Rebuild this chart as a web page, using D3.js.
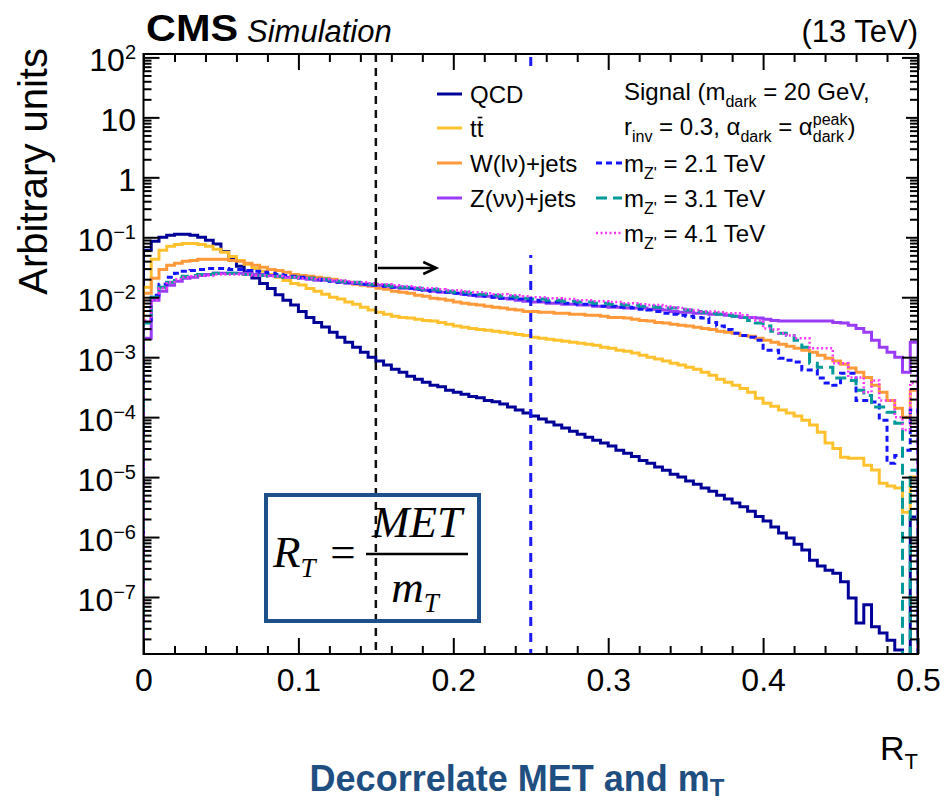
<!DOCTYPE html>
<html><head><meta charset="utf-8">
<script src="https://cdn.jsdelivr.net/npm/d3@7"></script>
<style>body{margin:0;background:#fff} text{white-space:pre}</style>
</head><body>
<svg id="c" width="946" height="802"></svg>
<script>
// ---------------- data (100 bins, R_T from 0 to 0.5) ----------------
const binWidth = 0.005;
const qcd = [6.1e-2,8.6e-2,1.0e-1,1.08e-1,1.12e-1,1.12e-1,1.08e-1,1.0e-1,8.9e-2,7.7e-2,
5.8e-2,4.3e-2,3.3e-2,2.6e-2,2.1e-2,1.7e-2,1.4e-2,1.1e-2,8.9e-3,7.4e-3,
5.8e-3,4.6e-3,3.8e-3,3.2e-3,2.6e-3,2.15e-3,1.78e-3,1.47e-3,1.21e-3,1.0e-3,
8.6e-4,7.4e-4,6.3e-4,5.6e-4,4.8e-4,4.3e-4,3.8e-4,3.4e-4,3.2e-4,2.8e-4,
2.6e-4,2.4e-4,2.2e-4,2.1e-4,1.9e-4,1.8e-4,1.65e-4,1.47e-4,1.31e-4,1.17e-4,
1.04e-4,9.3e-5,8.3e-5,7.4e-5,6.6e-5,5.8e-5,5.2e-5,4.6e-5,4.1e-5,3.7e-5,
3.3e-5,2.8e-5,2.5e-5,2.2e-5,1.9e-5,1.7e-5,1.47e-5,1.3e-5,1.12e-5,1.0e-5,
8.6e-6,7.6e-6,6.6e-6,5.8e-6,5.0e-6,4.3e-6,3.7e-6,3.2e-6,2.7e-6,2.2e-6,
1.85e-6,1.47e-6,1.17e-6,9.6e-7,7.6e-7,6.1e-7,4.1e-7,3.3e-7,2.8e-7,2.5e-7,
1.8e-7,9.6e-8,3.7e-8,7.4e-8,3.2e-8,2.5e-8,1.9e-8,1.3e-8,0,2.15e-6];
const ttbar = [1.47e-2,4.3e-2,6.1e-2,7.1e-2,7.6e-2,7.9e-2,7.9e-2,7.6e-2,7.1e-2,6.3e-2,
5.6e-2,4.8e-2,4.1e-2,3.55e-2,3.0e-2,2.7e-2,2.4e-2,2.15e-2,1.9e-2,1.7e-2,
1.6e-2,1.4e-2,1.26e-2,1.12e-2,1.0e-2,9.3e-3,8.3e-3,7.6e-3,6.8e-3,6.1e-3,
5.6e-3,5.2e-3,4.8e-3,4.6e-3,4.5e-3,4.3e-3,4.1e-3,4.0e-3,3.8e-3,3.55e-3,
3.3e-3,3.16e-3,3.0e-3,2.9e-3,2.8e-3,2.7e-3,2.6e-3,2.5e-3,2.4e-3,2.3e-3,
2.15e-3,2.07e-3,2.0e-3,1.92e-3,1.85e-3,1.78e-3,1.71e-3,1.65e-3,1.58e-3,1.47e-3,
1.41e-3,1.31e-3,1.26e-3,1.17e-3,1.08e-3,1.0e-3,9.3e-4,8.6e-4,7.9e-4,7.4e-4,
6.8e-4,6.3e-4,5.6e-4,5.0e-4,4.3e-4,3.8e-4,3.4e-4,3.0e-4,2.6e-4,2.07e-4,
1.71e-4,1.52e-4,1.31e-4,1.17e-4,1.04e-4,8.9e-5,7.4e-5,5.6e-5,3.7e-5,3.0e-5,
2.15e-5,2.07e-5,2.07e-5,1.58e-5,1.31e-5,7.9e-6,7.1e-6,6.6e-6,2.6e-6,1.0e-5];
const wjets = [1.17e-2,2.07e-2,2.9e-2,3.4e-2,3.7e-2,4.0e-2,4.1e-2,4.3e-2,4.3e-2,4.3e-2,
4.3e-2,4.1e-2,4.0e-2,3.7e-2,3.4e-2,3.16e-2,2.9e-2,2.8e-2,2.6e-2,2.4e-2,
2.3e-2,2.24e-2,2.15e-2,2.07e-2,2.0e-2,1.85e-2,1.78e-2,1.65e-2,1.58e-2,1.52e-2,
1.41e-2,1.36e-2,1.26e-2,1.21e-2,1.17e-2,1.08e-2,1.04e-2,9.6e-3,9.3e-3,8.9e-3,
8.3e-3,7.9e-3,7.6e-3,7.4e-3,7.1e-3,6.8e-3,6.6e-3,6.3e-3,6.1e-3,5.8e-3,
5.8e-3,5.6e-3,5.6e-3,5.4e-3,5.4e-3,5.2e-3,5.2e-3,5.0e-3,5.0e-3,4.8e-3,
4.6e-3,4.6e-3,4.5e-3,4.3e-3,4.1e-3,4.0e-3,3.8e-3,3.7e-3,3.55e-3,3.4e-3,
3.3e-3,3.16e-3,3.0e-3,2.9e-3,2.7e-3,2.6e-3,2.5e-3,2.3e-3,2.24e-3,2.07e-3,
1.92e-3,1.78e-3,1.65e-3,1.52e-3,1.41e-3,1.31e-3,1.21e-3,1.08e-3,9.6e-4,8.6e-4,
7.6e-4,6.6e-4,5.6e-4,4.6e-4,3.4e-4,2.6e-4,1.9e-4,1.4e-4,1.0e-4,2.8e-4];
const zjets = [2.07e-3,8.9e-3,1.26e-2,1.58e-2,1.85e-2,2.07e-2,2.15e-2,2.3e-2,2.4e-2,2.5e-2,
2.5e-2,2.5e-2,2.5e-2,2.5e-2,2.4e-2,2.4e-2,2.3e-2,2.24e-2,2.15e-2,2.15e-2,
2.07e-2,2.0e-2,1.92e-2,1.92e-2,1.85e-2,1.78e-2,1.71e-2,1.71e-2,1.65e-2,1.58e-2,
1.58e-2,1.52e-2,1.47e-2,1.41e-2,1.41e-2,1.36e-2,1.31e-2,1.26e-2,1.21e-2,1.21e-2,
1.17e-2,1.12e-2,1.08e-2,1.04e-2,1.04e-2,1.0e-2,9.6e-3,9.3e-3,8.9e-3,8.6e-3,
8.3e-3,8.3e-3,7.9e-3,7.9e-3,7.6e-3,7.6e-3,7.4e-3,7.4e-3,7.1e-3,7.1e-3,
6.8e-3,6.8e-3,6.6e-3,6.6e-3,6.6e-3,6.3e-3,6.3e-3,6.1e-3,5.8e-3,5.6e-3,
5.6e-3,5.4e-3,5.4e-3,5.2e-3,5.2e-3,5.0e-3,4.8e-3,4.6e-3,4.6e-3,4.5e-3,
4.3e-3,4.1e-3,4.0e-3,4.0e-3,4.0e-3,4.0e-3,4.0e-3,4.0e-3,4.0e-3,3.8e-3,
3.7e-3,3.4e-3,3.0e-3,2.6e-3,1.92e-3,1.47e-3,1.21e-3,1.0e-3,5.6e-4,1.78e-3];
const sig21 = [3.8e-3,1.08e-2,1.65e-2,2.15e-2,2.5e-2,2.7e-2,2.8e-2,2.9e-2,3.0e-2,3.0e-2,
3.0e-2,2.9e-2,2.9e-2,2.8e-2,2.7e-2,2.6e-2,2.5e-2,2.4e-2,2.3e-2,2.24e-2,
2.15e-2,2.07e-2,2.0e-2,1.92e-2,1.85e-2,1.78e-2,1.78e-2,1.71e-2,1.65e-2,1.58e-2,
1.58e-2,1.52e-2,1.47e-2,1.47e-2,1.41e-2,1.36e-2,1.31e-2,1.26e-2,1.26e-2,1.21e-2,
1.17e-2,1.12e-2,1.08e-2,1.08e-2,1.04e-2,1.0e-2,9.6e-3,9.6e-3,9.3e-3,8.9e-3,
8.9e-3,8.6e-3,8.3e-3,8.3e-3,7.9e-3,7.9e-3,7.6e-3,7.6e-3,7.4e-3,7.1e-3,
7.1e-3,6.8e-3,6.8e-3,6.6e-3,6.3e-3,6.1e-3,5.8e-3,5.4e-3,5.2e-3,5.0e-3,
4.8e-3,4.6e-3,4.5e-3,3.8e-3,3.3e-3,2.9e-3,2.5e-3,2.3e-3,2.15e-3,1.92e-3,
1.31e-3,1.31e-3,9.6e-4,8.9e-4,8.3e-4,6.1e-4,6.1e-4,4.5e-4,3.7e-4,3.4e-4,
5.4e-4,5.4e-4,1.9e-4,1.9e-4,1.78e-4,8.9e-5,1.7e-5,2.3e-5,2.8e-5,1.31e-4];
const sig31 = [3.7e-3,1.0e-2,1.47e-2,1.78e-2,2.07e-2,2.24e-2,2.3e-2,2.4e-2,2.4e-2,2.5e-2,
2.5e-2,2.5e-2,2.4e-2,2.4e-2,2.3e-2,2.3e-2,2.24e-2,2.24e-2,2.15e-2,2.15e-2,
2.07e-2,2.07e-2,2.0e-2,2.0e-2,1.92e-2,1.85e-2,1.78e-2,1.78e-2,1.71e-2,1.65e-2,
1.65e-2,1.58e-2,1.52e-2,1.47e-2,1.47e-2,1.41e-2,1.36e-2,1.36e-2,1.31e-2,1.26e-2,
1.21e-2,1.21e-2,1.17e-2,1.12e-2,1.12e-2,1.08e-2,1.04e-2,1.04e-2,1.0e-2,9.6e-3,
9.3e-3,9.3e-3,8.9e-3,8.9e-3,8.6e-3,8.6e-3,8.3e-3,8.3e-3,7.9e-3,7.9e-3,
7.6e-3,7.6e-3,7.4e-3,7.4e-3,7.1e-3,7.1e-3,6.8e-3,6.6e-3,6.6e-3,6.3e-3,
6.1e-3,5.8e-3,5.6e-3,5.4e-3,5.2e-3,5.0e-3,4.8e-3,4.6e-3,4.1e-3,3.7e-3,
3.3e-3,2.7e-3,2.5e-3,2.3e-3,1.92e-3,1.47e-3,7.9e-4,6.8e-4,6.8e-4,4.5e-4,
4.5e-4,4.1e-4,2.8e-4,2.3e-4,1.47e-4,1.47e-4,1.21e-4,7.9e-5,0,1.3e-5];
const sig41 = [4.1e-3,8.9e-3,1.41e-2,1.78e-2,2.0e-2,2.15e-2,2.24e-2,2.3e-2,2.3e-2,2.4e-2,
2.4e-2,2.4e-2,2.4e-2,2.4e-2,2.3e-2,2.3e-2,2.24e-2,2.24e-2,2.15e-2,2.15e-2,
2.07e-2,2.07e-2,2.0e-2,2.0e-2,1.92e-2,1.92e-2,1.85e-2,1.78e-2,1.78e-2,1.71e-2,
1.65e-2,1.65e-2,1.58e-2,1.52e-2,1.52e-2,1.47e-2,1.41e-2,1.41e-2,1.36e-2,1.31e-2,
1.31e-2,1.26e-2,1.21e-2,1.21e-2,1.17e-2,1.12e-2,1.12e-2,1.08e-2,1.08e-2,1.04e-2,
1.0e-2,1.0e-2,9.6e-3,9.6e-3,9.3e-3,9.3e-3,8.9e-3,8.9e-3,8.6e-3,8.6e-3,
8.3e-3,8.3e-3,7.9e-3,7.9e-3,7.6e-3,7.4e-3,7.4e-3,7.1e-3,6.8e-3,6.6e-3,
6.3e-3,6.1e-3,5.8e-3,5.8e-3,5.6e-3,5.4e-3,5.4e-3,5.0e-3,4.6e-3,4.1e-3,
3.0e-3,2.9e-3,2.5e-3,2.3e-3,2.07e-3,2.07e-3,1.41e-3,1.41e-3,1.41e-3,7.9e-4,
7.9e-4,4.6e-4,4.6e-4,2.6e-4,4.1e-4,1.9e-4,1.9e-4,1.0e-4,6.1e-5,3.7e-4];

const xMajorTicks = [0, 0.1, 0.2, 0.3, 0.4, 0.5];
const xTickLabels = ["0", "0.1", "0.2", "0.3", "0.4", "0.5"];
const yDecadeExps = [2, 1, 0, -1, -2, -3, -4, -5, -6, -7];
const cutLine = 0.15;
const sigLine = 0.25;

const backgrounds = [
  {name: "QCD", vals: qcd, color: "#000099"},
  {name: "ttbar", vals: ttbar, color: "#ffc22e"},
  {name: "W(lν)+jets", vals: wjets, color: "#ff9a3a"},
  {name: "Z(νν)+jets", vals: zjets, color: "#9b3cf5"}
];
const signals = [
  {name: "2.1", vals: sig21, color: "#1414ff", dash: "6,4", w: 3},
  {name: "3.1", vals: sig31, color: "#009999", dash: "11,6", w: 3},
  {name: "4.1", vals: sig41, color: "#ff33ff", dash: "2,2.5", w: 2.5}
];

// ---------------- layout ----------------
const svg = d3.select('#c');
const X0 = 143.5, X1 = 918, Y0 = 54, Y1 = 654;
const x = d3.scaleLinear().domain([0, 0.5]).range([X0, X1]);
const y = d3.scaleLog().domain([1.12e-8, 1.14e2]).range([Y1, Y0]);
const SANS = "'Liberation Sans', Arial, Helvetica, sans-serif";
const SERIF = "'Liberation Serif', 'Times New Roman', serif";

svg.append('defs').append('clipPath').attr('id','pc')
  .append('rect').attr('x',X0).attr('y',Y0).attr('width',X1-X0).attr('height',Y1-Y0);

function histPath(vals){
  const p = d3.path();
  const low = Y1 + 30;
  p.moveTo(x(0), low);
  vals.forEach((v,i)=>{
    const yy = v > 0 ? y(v) : low;
    p.lineTo(x(i*binWidth), yy);
    p.lineTo(x((i+1)*binWidth), yy);
  });
  p.lineTo(x(vals.length*binWidth), low);
  return p.toString();
}

const plot = svg.append('g').attr('clip-path','url(#pc)');
backgrounds.forEach(s=>{
  plot.append('path').attr('d',histPath(s.vals)).attr('fill','none')
    .attr('stroke',s.color).attr('stroke-width',3).attr('stroke-linejoin','miter');
});
signals.forEach(s=>{
  plot.append('path').attr('d',histPath(s.vals)).attr('fill','none')
    .attr('stroke',s.color).attr('stroke-width',s.w).attr('stroke-dasharray',s.dash);
});

// vertical lines
plot.append('line').attr('x1',x(cutLine)).attr('x2',x(cutLine)).attr('y1',Y0).attr('y2',Y1)
  .attr('stroke','#111').attr('stroke-width',2.5).attr('stroke-dasharray','8,6');
plot.append('line').attr('x1',x(sigLine)).attr('x2',x(sigLine)).attr('y1',Y0+3).attr('y2',Y1)
  .attr('stroke','#1a1aff').attr('stroke-width',3).attr('stroke-dasharray','9,7');

// arrow
const ay = 268, ax0 = x(cutLine)+2, ax1 = x(0.189);
svg.append('line').attr('x1',ax0).attr('x2',ax1).attr('y1',ay).attr('y2',ay).attr('stroke','#000').attr('stroke-width',2.5);
svg.append('path').attr('d',`M${ax1-13},${ay-6}L${ax1},${ay}L${ax1-13},${ay+6}`).attr('fill','none').attr('stroke','#000').attr('stroke-width',2.5);

// axes (ROOT style, inward ticks on all sides)
const minorX = d3.range(0, 0.5001, 0.02).filter(v=>Math.abs(v*10-Math.round(v*10))>1e-6);
const majorY = yDecadeExps.map(e=>Math.pow(10,e));
const minorY = [];
for (let e=-8; e<=2; e++) for (let m=2; m<=9; m++){ const v=m*Math.pow(10,e); if (v>=1.12e-8 && v<=1.14e2) minorY.push(v); }

function styleAxis(g){ g.select('.domain').remove(); g.selectAll('line').attr('stroke','#000').attr('stroke-width',2); }
svg.append('g').attr('transform',`translate(0,${Y1})`)
  .call(d3.axisBottom(x).tickValues(xMajorTicks).tickSizeInner(-16).tickSizeOuter(0).tickPadding(14).tickFormat((d,i)=>xTickLabels[i]))
  .call(styleAxis)
  .call(g=>g.selectAll('text').attr('font-family',SANS).attr('font-size',32).attr('fill','#000'));
svg.append('g').attr('transform',`translate(0,${Y1})`).call(d3.axisBottom(x).tickValues(minorX).tickSize(-8).tickFormat('')).call(styleAxis);
svg.append('g').attr('transform',`translate(0,${Y0})`).call(d3.axisTop(x).tickValues(xMajorTicks).tickSize(-16).tickFormat('')).call(styleAxis);
svg.append('g').attr('transform',`translate(0,${Y0})`).call(d3.axisTop(x).tickValues(minorX).tickSize(-8).tickFormat('')).call(styleAxis);
svg.append('g').attr('transform',`translate(${X0},0)`).call(d3.axisLeft(y).tickValues(majorY).tickSize(-16).tickFormat('')).call(styleAxis);
svg.append('g').attr('transform',`translate(${X0},0)`).call(d3.axisLeft(y).tickValues(minorY).tickSize(-8).tickFormat('')).call(styleAxis);
svg.append('g').attr('transform',`translate(${X1},0)`).call(d3.axisRight(y).tickValues(majorY).tickSize(-16).tickFormat('')).call(styleAxis);
svg.append('g').attr('transform',`translate(${X1},0)`).call(d3.axisRight(y).tickValues(minorY).tickSize(-8).tickFormat('')).call(styleAxis);

// rich text helper
function rich(parent, x0, yb, segs, opt){
  const g = parent.append('g').attr('font-family',opt.family||SANS).attr('fill',opt.fill||'#000');
  if (opt.weight) g.attr('font-weight',opt.weight);
  let cx = 0;
  segs.forEach(s=>{
    if (s.stack){
      const a = g.append('text').attr('x',cx).attr('y',yb+s.stack.supDy).attr('font-size',s.stack.size).text(s.stack.sup);
      const b = g.append('text').attr('x',cx).attr('y',yb+s.stack.subDy).attr('font-size',s.stack.size).text(s.stack.sub);
      cx += Math.max(a.node().getComputedTextLength(), b.node().getComputedTextLength());
    } else {
      const t = g.append('text').attr('x',cx).attr('y',yb+(s.dy||0)).attr('font-size',s.size||opt.size).text(s.t);
      if (s.style) t.attr('font-style',s.style);
      const w = t.node().getComputedTextLength();
      if (s.overline) g.append('line').attr('x1',cx+1).attr('x2',cx+w-1).attr('y1',yb-s.overline).attr('y2',yb-s.overline).attr('stroke',opt.fill||'#000').attr('stroke-width',1.6);
      cx += w + (s.kern||0);
    }
  });
  let off = x0;
  if (opt.anchor==='end') off = x0-cx; else if (opt.anchor==='middle') off = x0-cx/2;
  g.attr('transform',`translate(${off},0)`);
  return g;
}

// y tick labels
yDecadeExps.forEach(e=>{
  const yb = y(Math.pow(10,e)) + 14;
  let segs;
  if (e===0) segs=[{t:'1'}];
  else if (e===1) segs=[{t:'10'}];
  else segs=[{t:'10'},{t:(e<0?'\u2212':'')+Math.abs(e), size:20, dy:-12}];
  rich(svg, 136, yb, segs, {size:32, anchor:'end'});
});

// frame
svg.append('rect').attr('x',X0).attr('y',Y0).attr('width',X1-X0).attr('height',Y1-Y0)
  .attr('fill','none').attr('stroke','#000').attr('stroke-width',2);

// titles
svg.append('text').attr('x',146).attr('y',41).attr('font-family',SANS).attr('font-weight','bold')
  .attr('font-size',36).attr('textLength',92).attr('lengthAdjust','spacingAndGlyphs').text('CMS');
svg.append('text').attr('x',247).attr('y',42).attr('font-family',SANS).attr('font-style','italic')
  .attr('font-size',31).text('Simulation');
svg.append('text').attr('x',918).attr('y',42).attr('text-anchor','end').attr('font-family',SANS)
  .attr('font-size',31).text('(13 TeV)');
svg.append('text').attr('transform','translate(47,48) rotate(-90)').attr('text-anchor','end')
  .attr('font-family',SANS).attr('font-size',40).text('Arbitrary units');
rich(svg, 918, 760, [{t:'R'},{t:'T', size:22, dy:9}], {size:34, anchor:'end'});

// legend
svg.append('rect').attr('x',430).attr('y',73).attr('width',476).attr('height',182).attr('fill','#fff');
const LF = 24;
const rows = [94, 128, 163, 198, 233];
const legendLeft = [
  [{t:'QCD'}],
  [{t:'t'},{t:'t', overline:19}],
  [{t:'W(lν)+jets'}],
  [{t:'Z(νν)+jets'}]
];
backgrounds.forEach((s,i)=>{
  svg.append('line').attr('x1',437).attr('x2',462).attr('y1',rows[i]).attr('y2',rows[i])
    .attr('stroke',s.color).attr('stroke-width',3);
  rich(svg, 470, rows[i]+8.5, legendLeft[i], {size:LF});
});
rich(svg, 624, 100, [{t:'Signal (m'},{t:'dark', size:16, dy:7},{t:' = 20 GeV,'}], {size:LF});
rich(svg, 624, 135, [{t:'r'},{t:'inv', size:16, dy:7},{t:' = 0.3, α'},{t:'dark', size:16, dy:7},{t:' = α'},
  {stack:{sup:'peak', sub:'dark', size:16, supDy:-10, subDy:7}},{t:')'}], {size:LF});
signals.forEach((s,i)=>{
  const cy = rows[i+2];
  svg.append('line').attr('x1',596).attr('x2',622).attr('y1',cy).attr('y2',cy)
    .attr('stroke',s.color).attr('stroke-width',s.w).attr('stroke-dasharray',s.dash);
  rich(svg, 624, cy+8.5, [{t:'m'},{t:"Z'", size:16, dy:7},{t:' = '+s.name+' TeV'}], {size:LF});
});

// formula box
const BOX = '#1d5088';
svg.append('rect').attr('x',266).attr('y',495).attr('width',213).attr('height',126)
  .attr('fill','none').attr('stroke',BOX).attr('stroke-width',4);
rich(svg, 273, 567, [{t:'R', style:'italic', kern:0},{t:'T', size:27, dy:10, style:'italic'}], {size:45, family:SERIF});
svg.append('text').attr('x',343).attr('y',567).attr('text-anchor','middle').attr('font-family',SERIF).attr('font-size',45).text('=');
svg.append('text').attr('x',417).attr('y',537).attr('text-anchor','middle').attr('font-family',SERIF).attr('font-style','italic').attr('font-size',45).text('MET');
svg.append('line').attr('x1',366).attr('x2',468).attr('y1',554).attr('y2',554).attr('stroke','#000').attr('stroke-width',2.5);
rich(svg, 415, 602, [{t:'m', style:'italic', kern:0},{t:'T', size:27, dy:10, style:'italic'}], {size:45, family:SERIF, anchor:'middle'});

// bottom caption
const cap = rich(svg, 517, 791, [{t:'Decorrelate MET and m'},{t:'T', size:24, dy:5}], {size:36, weight:'bold', fill:'#1f4e80', family:"'Liberation Sans Narrow', 'Liberation Sans', Arial, sans-serif", anchor:'middle'});
</script>
</body></html>
